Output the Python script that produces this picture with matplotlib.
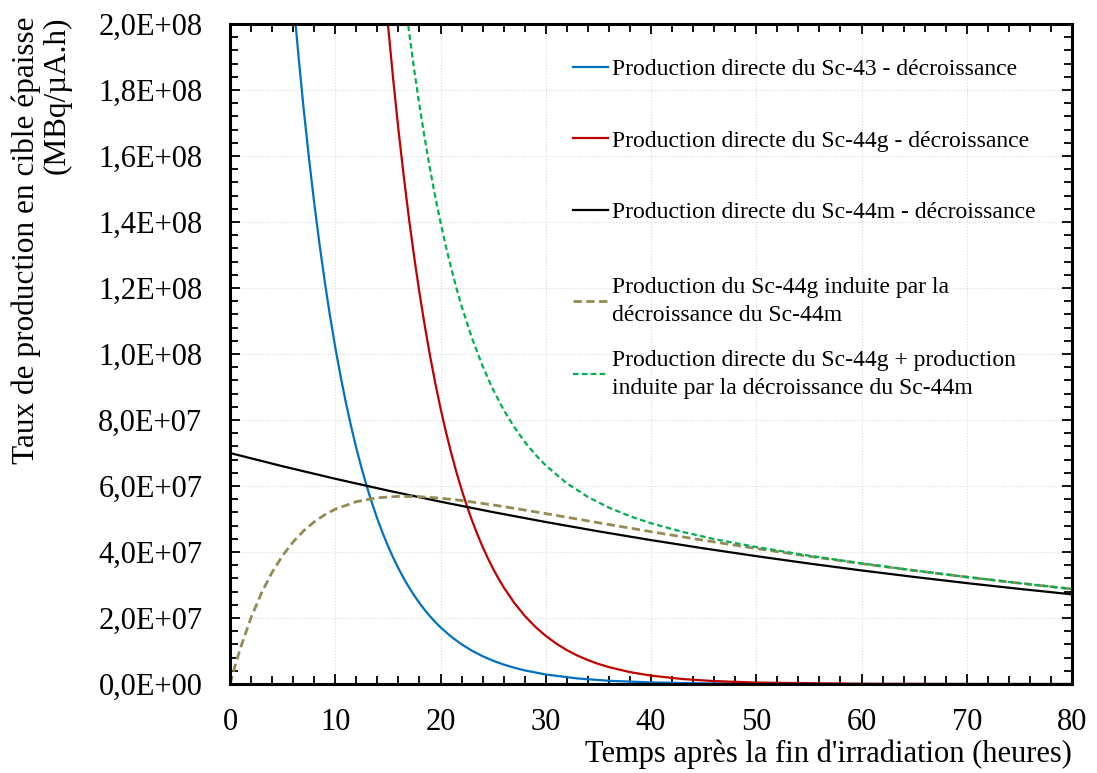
import matplotlib
matplotlib.use('Agg')
import matplotlib.pyplot as plt
from matplotlib.ticker import MultipleLocator, AutoMinorLocator, FuncFormatter

plt.rcParams['font.family'] = ['Liberation Serif', 'DejaVu Serif']

# --- Data ---
# Sc-43 direct production, decay
t_sc43 = [5, 6, 6.5, 7, 7.5, 8, 8.5, 9, 9.5, 10, 10.5, 11, 11.5, 12, 12.5,
          13, 13.5, 14, 14.5, 15, 15.5, 16, 16.5, 17, 17.5, 18, 18.5, 19,
          19.5, 20, 21, 22, 23, 24, 25, 26, 27, 28, 30, 33, 36, 40, 45, 50,
          60, 70, 80]
a_sc43 = [2.487e8, 2.081e8, 1.904e8, 1.741e8, 1.593e8, 1.457e8, 1.333e8,
          1.219e8, 1.115e8, 1.020e8, 9.331e7, 8.538e7, 7.810e7, 7.145e7,
          6.536e7, 5.979e7, 5.470e7, 5.003e7, 4.577e7, 4.187e7, 3.830e7,
          3.503e7, 3.204e7, 2.932e7, 2.682e7, 2.453e7, 2.244e7, 2.053e7,
          1.878e7, 1.718e7, 1.438e7, 1.203e7, 1.007e7, 8.42e6, 7.05e6, 5.90e6,
          4.94e6, 4.13e6, 2.89e6, 1.69e6, 9.9e5, 4.87e5, 2.0e5, 8.2e4, 1.4e4,
          2.4e3, 4e2]

# Sc-44g direct production, decay
t_sc44g = [14, 15, 15.5, 16, 16.5, 17, 17.5, 18, 18.5, 19, 19.5, 20, 20.5,
           21, 21.5, 22, 22.5, 23, 23.5, 24, 24.5, 25, 25.5, 26, 27, 28, 29,
           30, 31, 32, 33, 34, 35, 36, 38, 40, 43, 46, 50, 60, 70, 80]
a_sc44g = [2.382e8, 2.0e8, 1.833e8, 1.680e8, 1.540e8, 1.411e8, 1.293e8,
           1.185e8, 1.086e8, 9.949e7, 9.117e7, 8.355e7, 7.657e7, 7.017e7,
           6.430e7, 5.893e7, 5.400e7, 4.949e7, 4.535e7, 4.156e7, 3.809e7,
           3.490e7, 3.198e7, 2.931e7, 2.462e7, 2.067e7, 1.736e7, 1.458e7,
           1.224e7, 1.028e7, 8.63e6, 7.25e6, 6.09e6, 5.12e6, 3.61e6, 2.55e6,
           1.51e6, 8.9e5, 4.45e5, 7.8e4, 1.4e4, 2.4e3]

# Sc-44m direct production, decay
t_sc44m = [0, 5, 10, 15, 20, 25, 30, 35, 40, 45, 50, 55, 60, 65, 70, 75, 80]
a_sc44m = [7.0e7, 6.598e7, 6.219e7, 5.862e7, 5.525e7, 5.208e7, 4.909e7,
           4.627e7, 4.361e7, 4.111e7, 3.875e7, 3.652e7, 3.442e7, 3.245e7,
           3.058e7, 2.883e7, 2.717e7]

# Sc-44g induced by Sc-44m decay
t_ind = [0, 0.5, 1, 2, 3, 4, 5, 6, 7, 8, 9, 10, 12, 14, 16, 18, 20, 22, 25,
         28, 30, 35, 40, 45, 50, 55, 60, 65, 70, 75, 80]
a_ind = [0, 5.76e6, 1.101e7, 2.014e7, 2.767e7, 3.387e7, 3.895e7, 4.309e7,
         4.645e7, 4.914e7, 5.129e7, 5.298e7, 5.525e7, 5.644e7, 5.686e7,
         5.677e7, 5.631e7, 5.561e7, 5.426e7, 5.272e7, 5.164e7, 4.888e7,
         4.616e7, 4.355e7, 4.106e7, 3.871e7, 3.649e7, 3.439e7, 3.242e7,
         3.056e7, 2.880e7]

# Sc-44g direct + induced
t_tot = [16, 16.5, 17, 17.5, 18, 18.5, 19, 19.5, 20, 20.5, 21, 21.5, 22, 23,
         24, 25, 26, 27, 28, 29, 30, 32, 34, 36, 38, 40, 43, 46, 50, 55, 60,
         65, 70, 75, 80]
a_tot = [2.249e8, 2.109e8, 1.979e8, 1.861e8, 1.753e8, 1.653e8, 1.561e8,
         1.476e8, 1.399e8, 1.327e8, 1.262e8, 1.201e8, 1.145e8, 1.047e8,
         9.630e7, 8.916e7, 8.307e7, 7.787e7, 7.339e7, 6.954e7, 6.622e7,
         6.082e7, 5.668e7, 5.345e7, 5.085e7, 4.871e7, 4.609e7, 4.393e7,
         4.151e7, 3.890e7, 3.657e7, 3.442e7, 3.243e7, 3.056e7, 2.880e7]

labels = ['Production directe du Sc-43 - décroissance',
          'Production directe du Sc-44g - décroissance',
          'Production directe du Sc-44m - décroissance',
          'Production du Sc-44g induite par la\ndécroissance du Sc-44m',
          'Production directe du Sc-44g + production\n'
          'induite par la décroissance du Sc-44m']

fig = plt.figure(figsize=(10.97, 7.73), dpi=100)
ax = fig.add_axes([0.2097, 0.1151, 0.7675, 0.8539])

l1, = ax.plot(t_sc43, a_sc43, color='#0070C0', lw=1.6, label=labels[0])
l2, = ax.plot(t_sc44g, a_sc44g, color='#C00000', lw=1.6, label=labels[1])
l3, = ax.plot(t_sc44m, a_sc44m, color='black', lw=1.6, label=labels[2])
l4, = ax.plot(t_ind, a_ind, color='#948A54', lw=2.0, ls=(0, (3, 1.6)),
              label=labels[3])
l5, = ax.plot(t_tot, a_tot, color='#00B050', lw=1.6, ls=(0, (2.5, 1.5)),
              label=labels[4])

ax.set_xlim(0, 80)
ax.set_ylim(0, 2e8)
ax.xaxis.set_major_locator(MultipleLocator(10))
ax.xaxis.set_minor_locator(AutoMinorLocator(5))
ax.yaxis.set_major_locator(MultipleLocator(2e7))
ax.yaxis.set_minor_locator(AutoMinorLocator(5))
ax.yaxis.set_major_formatter(
    FuncFormatter(lambda v, p: f'{v:.1E}'.replace('.', ',')))

ax.grid(which='major', color='#d9d9d9', ls=':', lw=0.8)
for s in ax.spines.values():
    s.set_linewidth(2.2)
ax.tick_params(which='both', direction='in', top=True, right=True,
               labelsize=22, width=1.3)
ax.tick_params(which='major', length=7)
ax.tick_params(which='minor', length=6)
ax.tick_params(axis='y', pad=20)
ax.tick_params(axis='x', pad=17)

ax.set_xlabel("Temps après la fin d'irradiation (heures)", fontsize=22,
              loc='right', labelpad=2)
ax.set_ylabel('Taux de production en cible épaisse\n(MBq/µA.h)',
              fontsize=22.5, linespacing=1.1, multialignment='right')
ax.yaxis.set_label_coords(-0.224, 1.012)
ax.yaxis.label.set_ha('right')
ax.yaxis.label.set_va('center')

# Legend: single-line entries, then the two-line entries
leg1 = ax.legend(handles=[l1, l2, l3], loc='upper left',
                 bbox_to_anchor=(0.382, 0.98), frameon=False, fontsize=17,
                 handlelength=1.5, handletextpad=0.15, labelspacing=2.12)
ax.add_artist(leg1)
leg2 = ax.legend(handles=[l4, l5], loc='upper left',
                 bbox_to_anchor=(0.382, 0.649), frameon=False, fontsize=17,
                 handlelength=1.5, handletextpad=0.15, labelspacing=1.0)
for t in leg2.get_texts():
    t.set_linespacing(1.45)

fig.savefig('out.png', dpi=100)
